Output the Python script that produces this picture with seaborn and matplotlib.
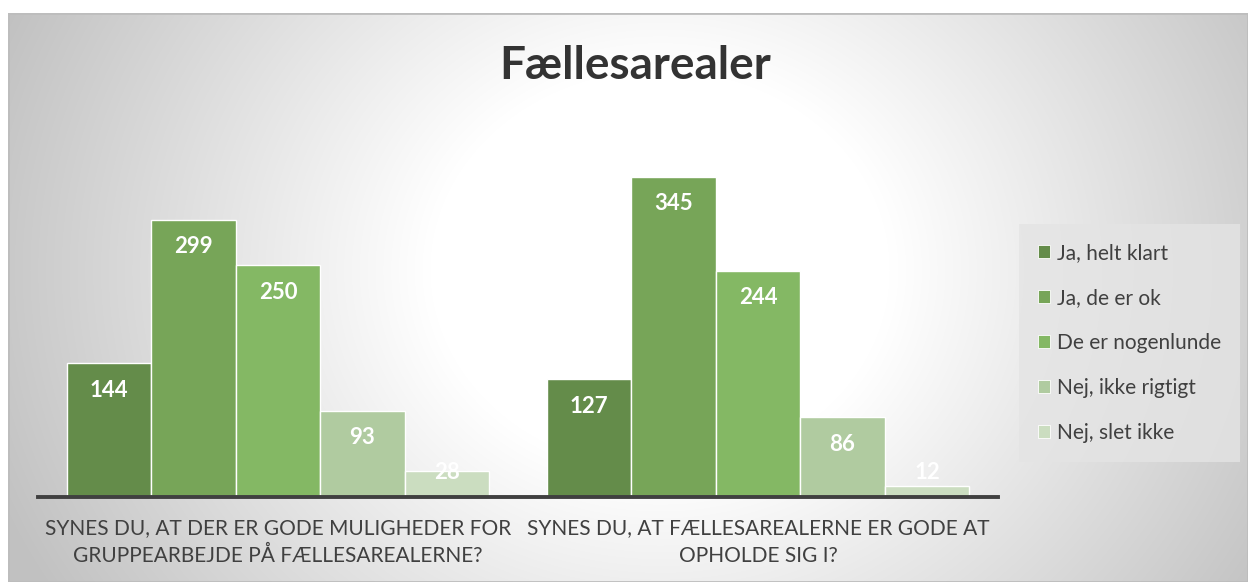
import numpy as np
import pandas as pd
import matplotlib
matplotlib.use('Agg')
import matplotlib.pyplot as plt
import seaborn as sns
from matplotlib.patches import Patch, Rectangle

questions = ['SYNES DU, AT DER ER GODE MULIGHEDER FOR\nGRUPPEARBEJDE PÅ FÆLLESAREALERNE?',
             'SYNES DU, AT FÆLLESAREALERNE ER GODE AT\nOPHOLDE SIG I?']
answers = ['Ja, helt klart', 'Ja, de er ok', 'De er nogenlunde', 'Nej, ikke rigtigt', 'Nej, slet ikke']
gruppe_values = [144, 299, 250, 93, 28]
ophold_values = [127, 345, 244, 86, 12]
colors = ['#648c4a', '#77a558', '#84b864', '#b0cba0', '#cbddc0']

df = pd.DataFrame({
    'question': [questions[0]] * 5 + [questions[1]] * 5,
    'answer': answers + answers,
    'count': gruppe_values + ophold_values,
})

sns.set_theme(style='white')
plt.rcParams['font.family'] = ['Lato', 'DejaVu Sans']

W, H = 1248, 582
fig = plt.figure(figsize=(W / 100, H / 100), dpi=100)
fig.patch.set_facecolor('white')

# radial gradient background
bg = fig.add_axes([8 / W, 0, 1 - 8 / W, 1 - 13 / H], zorder=-10)
yy, xx = np.mgrid[13:H, 8:W]
r = np.sqrt((xx - 660) ** 2 + ((yy - 270) * 1.15) ** 2)
t = np.clip((r - 230) / 480, 0, 1)
g = 1.0 - 0.24 * t
bg.imshow(np.dstack([g, g, g]), aspect='auto', extent=(0, 1, 0, 1), origin='upper')
bg.set_xlim(0, 1)
bg.set_ylim(0, 1)
bg.axis('off')
bg.add_patch(Rectangle((0, 0), 1, 1, transform=bg.transAxes, fill=False,
                       edgecolor='#bdbdbd', linewidth=2))

ax = fig.add_axes([38 / W, 1 - 497 / H, (998 - 38) / W, (497 - 126) / H])
ax.patch.set_alpha(0)
sns.barplot(data=df, x='question', y='count', hue='answer', hue_order=answers,
            palette=colors, width=0.88, edgecolor='white', linewidth=1,
            saturation=1, legend=False, ax=ax)
ax.set_ylim(0, 400)
ax.set_xlim(-0.5, 1.5)
ax.set_xlabel('')
ax.set_ylabel('')
ax.set_yticks([])
for side in ['top', 'left', 'right']:
    ax.spines[side].set_visible(False)
ax.spines['bottom'].set_color('#404040')
ax.spines['bottom'].set_linewidth(2.8)
ax.tick_params(axis='x', length=0, pad=15, labelsize=15, labelcolor='#404040')
for lbl in ax.get_xticklabels():
    lbl.set_linespacing(1.5)

# labels sit inside the bar top, but never lower than a fixed height above the axis
for cont in ax.containers:
    for p in cont:
        h = p.get_height()
        ax.text(p.get_x() + p.get_width() / 2, max(h - 29, 26), f'{int(h)}',
                ha='center', va='center', color='white', fontweight='bold', fontsize=16)

fig.text(635 / W, 1 - 66 / H, 'Fællesarealer', ha='center', va='center',
         fontsize=33, fontweight='bold', color='#333333')

handles = [Patch(facecolor=c, edgecolor='white', linewidth=0.6) for c in colors]
leg = fig.legend(handles, answers, loc='center left', bbox_to_anchor=(1025 / W, 1 - 343 / H),
                 frameon=True, fontsize=15, labelspacing=1.2, handlelength=0.62,
                 handleheight=0.62, handletextpad=0.3, borderpad=0.6, borderaxespad=0)
leg.get_frame().set_facecolor('#e4e4e4')
leg.get_frame().set_edgecolor('none')
leg.get_frame().set_boxstyle('square')
for txt in leg.get_texts():
    txt.set_color('#404040')

fig.savefig('out.png', dpi=100)
